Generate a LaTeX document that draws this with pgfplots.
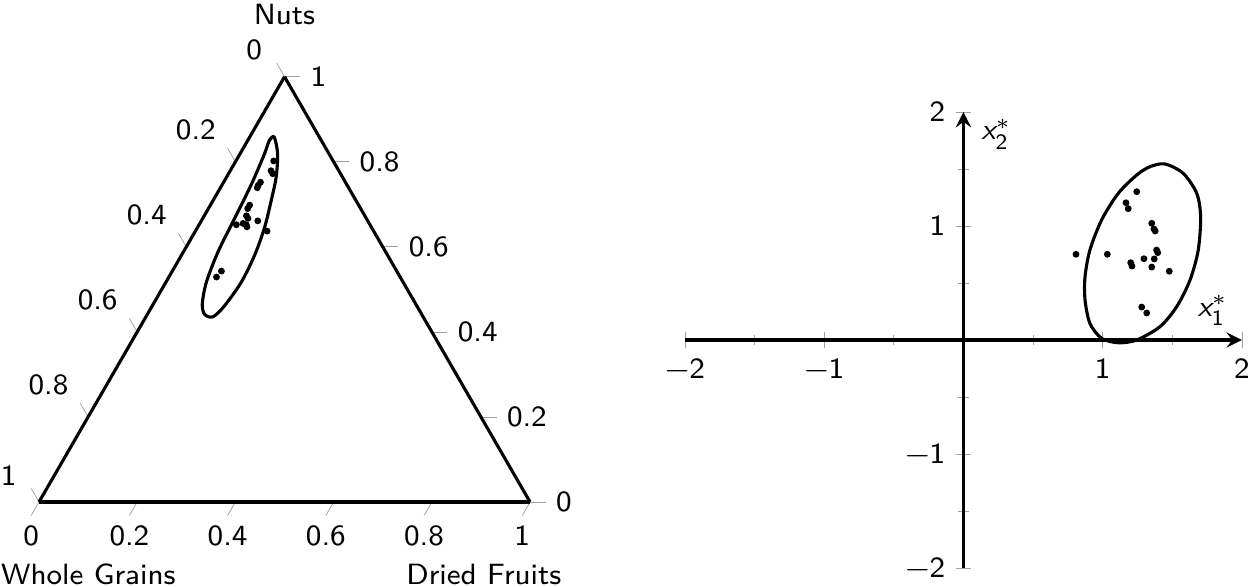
\documentclass[border=0pt]{standalone}
\usepackage{amsmath}
\usepackage{graphicx}
\usepackage{pgfplots}
\pgfplotsset{compat=1.18}
\usepgfplotslibrary{ternary}
\renewcommand{\familydefault}{\sfdefault}
\pgfplotsset{/pgf/number format/assume math mode=true}
\begin{document}
\footnotesize
\scalebox{1.25}{%
\begin{tikzpicture}
% composition: (nuts, whole grains, dried fruits)
\begin{ternaryaxis}[
    name=tern,
    at={(0,0)}, anchor=south west,
    scale only axis, width=4.714cm, height=4.08cm,
    xmin=0, xmax=1, ymin=0, ymax=1, zmin=0, zmax=1,
    xtick={0,0.2,0.4,0.6,0.8,1},
    ytick={0,0.2,0.4,0.6,0.8,1},
    ztick={0,0.2,0.4,0.6,0.8,1},
    xticklabels={0,0.2,0.4,0.6,0.8,1},
    yticklabels={0,0.2,0.4,0.6,0.8,1},
    zticklabels={0,0.2,0.4,0.6,0.8,1},
    xmajorgrids=false, ymajorgrids=false, zmajorgrids=false,
    tick style={gray!75},
    axis line style={line width=0.85pt},
]
\addplot3[only marks, mark=*, mark size=0.72pt] coordinates {
    (0.802,0.121,0.077) (0.779,0.138,0.083) (0.772,0.138,0.090)
    (0.752,0.173,0.075) (0.745,0.181,0.074) (0.739,0.186,0.075)
    (0.698,0.222,0.080) (0.690,0.230,0.080) (0.673,0.241,0.086)
    (0.667,0.241,0.092) (0.655,0.257,0.088) (0.652,0.272,0.076)
    (0.652,0.252,0.096) (0.647,0.253,0.100) (0.661,0.224,0.115)
    (0.637,0.217,0.146) (0.543,0.357,0.100) (0.529,0.374,0.097)
};
\addplot3[smooth cycle, line width=0.85pt] coordinates {
    (0.858,0.092,0.050) (0.818,0.105,0.077) (0.7625,0.136,0.1015)
    (0.707,0.174,0.119) (0.644,0.219,0.137) (0.580,0.271,0.149)
    (0.5165,0.330,0.1535) (0.461,0.392,0.147) (0.4355,0.428,0.1365)
    (0.441,0.442,0.117) (0.465,0.435,0.100) (0.5165,0.401,0.0825)
    (0.588,0.3415,0.0705) (0.667,0.268,0.065) (0.747,0.194,0.059)
    (0.818,0.132,0.050) (0.850,0.106,0.044)
};
\end{ternaryaxis}
\node[anchor=base, inner sep=0pt] at ([yshift=0.505cm]tern.north) {Nuts};
\node[anchor=base west, inner sep=0pt] at ([xshift=-0.37cm, yshift=-0.79cm]tern.south west) {Whole Grains};
\node[anchor=base east, inner sep=0pt] at ([xshift=0.307cm, yshift=-0.79cm]tern.south east) {Dried Fruits};

\begin{axis}[
    at={(8.875cm,1.555cm)}, anchor=origin,
    scale only axis, width=5.347cm, height=4.378cm,
    axis lines=middle,
    xmin=-2, xmax=2, ymin=-2, ymax=2,
    xtick={-2,-1,0,1,2}, ytick={-2,-1,0,1,2},
    xticklabels={\textminus2,\textminus1,0,1,2},
    yticklabels={\textminus2,\textminus1,0,1,2},
    minor tick num=1,
    tick align=center,
    tick style={gray!75},
    axis line style={line width=0.85pt},
    xlabel={$\textit{x}_{\textsf{1}}^{\ast}$},
    ylabel={$\textit{x}_{\textsf{2}}^{\ast}$},
    xlabel style={at={(axis cs:2,0)}, anchor=south east, xshift=-1pt, yshift=1pt},
    ylabel style={at={(axis cs:0,2)}, anchor=north west, xshift=2pt, yshift=1pt},
]
\addplot[only marks, mark=*, mark size=0.72pt] coordinates {
    (1.244,1.301) (1.167,1.204) (1.183,1.152) (1.352,1.024)
    (1.368,0.974) (1.377,0.956) (0.808,0.752) (1.033,0.752)
    (1.387,0.789) (1.395,0.766) (1.296,0.713) (1.370,0.711)
    (1.201,0.678) (1.210,0.649) (1.352,0.640) (1.478,0.603)
    (1.280,0.289) (1.316,0.237)
};
\addplot[smooth cycle, line width=0.85pt] coordinates {
    (1.447,1.544) (1.578,1.462) (1.675,1.287) (1.703,1.082)
    (1.686,0.789) (1.627,0.526) (1.531,0.292) (1.411,0.117)
    (1.244,0.000) (1.112,-0.024) (0.992,0.015) (0.908,0.146)
    (0.873,0.351) (0.873,0.555) (0.908,0.789) (0.992,1.053)
    (1.112,1.287) (1.244,1.447) (1.339,1.520)
};
\end{axis}
\pgfresetboundingbox
\path[use as bounding box] (-0.3744cm,-0.816cm) rectangle (11.6256cm,4.8192cm);
\end{tikzpicture}%
}
\end{document}
